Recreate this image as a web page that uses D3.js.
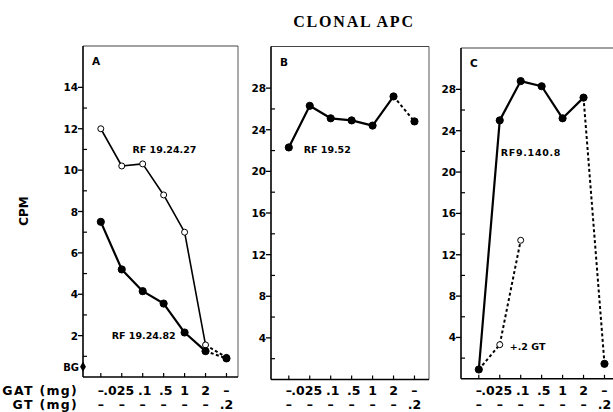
<!DOCTYPE html>
<html><head><meta charset="utf-8">
<script src="https://cdn.jsdelivr.net/npm/d3@7"></script>
<style>
html,body{margin:0;padding:0;background:#fff;}
svg{display:block;font-family:"DejaVu Sans",Arial,sans-serif;font-weight:bold;}
</style></head>
<body>
<script>
// ---- data ----
const gatLabels = ["–", ".025", ".1", ".5", "1", "2", "–"];
const gtLabels  = ["–", "–", "–", "–", "–", "–", ".2"];
const indices   = [0, 1, 2, 3, 4, 5, 6];

// Panel A
const rf192427 = [12.0, 10.2, 10.3, 8.8, 7.0, 1.55, 0.95];
const rf192482 = [7.5, 5.2, 4.15, 3.55, 2.15, 1.25, 0.9];
const bgValue  = 0.5;
const aTicksMajor = [2, 4, 6, 8, 10, 12, 14];
const aTicksMinor = [1, 3, 5, 7, 9, 11, 13];

// Panel B
const rf1952 = [22.3, 26.3, 25.1, 24.9, 24.4, 27.2, 24.8];
// Panel C
const rf91408 = [0.9, 25.0, 28.8, 28.3, 25.2, 27.2, 1.45];
const plusGT  = [0.9, 3.3, 13.4];
const bcTicksMajor = [4, 8, 12, 16, 20, 24, 28];
const bcTicksMinor = [2, 6, 10, 14, 18, 22, 26];

const W = 613, H = 412;
const svg = d3.select("body").append("svg").attr("width", W).attr("height", H);

svg.append("text").attr("x", 354).attr("y", 27).attr("text-anchor", "middle")
  .style("font-family", "'Liberation Serif','Times New Roman',serif")
  .style("font-size", "16px").style("letter-spacing", "1.8px").text("CLONAL APC");

svg.append("text").attr("transform", "translate(28,211) rotate(-90)")
  .attr("text-anchor", "middle").style("font-size", "12px").text("CPM");

svg.append("text").attr("x", 78).attr("y", 395).attr("text-anchor", "end")
  .style("font-size", "12.5px").style("letter-spacing", "1.3px").text("GAT (mg)");
svg.append("text").attr("x", 78).attr("y", 408.5).attr("text-anchor", "end")
  .style("font-size", "12.5px").style("letter-spacing", "1.3px").text("GT (mg)");

const labelShift = {".025": -3, ".1": 2, ".5": 2};

function panel(cfg) {
  const x = d3.scaleLinear().domain([-0.85, 6.55]).range([cfg.left, cfg.left + 155]);
  const y = d3.scaleLinear().domain([0, cfg.ymax]).range([cfg.bottom, cfg.top]);
  const g = svg.append("g");
  g.append("line").attr("x1", cfg.left).attr("x2", cfg.right).attr("y1", cfg.top).attr("y2", cfg.top)
    .attr("stroke", "#444").attr("stroke-width", 1.2);
  if (cfg.right < W) g.append("line").attr("x1", cfg.right).attr("x2", cfg.right).attr("y1", cfg.top).attr("y2", cfg.bottom)
    .attr("stroke", "#555").attr("stroke-width", 1);
  g.append("line").attr("x1", cfg.left).attr("x2", cfg.right).attr("y1", cfg.bottom).attr("y2", cfg.bottom)
    .attr("stroke", "#000").attr("stroke-width", 1.6);
  g.append("line").attr("x1", cfg.left).attr("x2", cfg.left).attr("y1", cfg.top).attr("y2", cfg.bottom)
    .attr("stroke", "#000").attr("stroke-width", 1.6);
  cfg.major.forEach(v => {
    g.append("line").attr("x1", cfg.left - 5).attr("x2", cfg.left).attr("y1", y(v)).attr("y2", y(v))
      .attr("stroke", "#000").attr("stroke-width", 1.3);
    g.append("text").attr("x", cfg.left - 5).attr("y", y(v) + 4).attr("text-anchor", "end")
      .style("font-size", "10.5px").text(v);
  });
  cfg.minor.forEach(v => {
    g.append("line").attr("x1", cfg.left).attr("x2", cfg.left + 4).attr("y1", y(v)).attr("y2", y(v))
      .attr("stroke", "#000").attr("stroke-width", 1.2);
  });
  indices.forEach(i => {
    g.append("line").attr("x1", x(i)).attr("x2", x(i)).attr("y1", cfg.bottom).attr("y2", cfg.bottom - 4)
      .attr("stroke", "#000").attr("stroke-width", 1.2);
    g.append("text").attr("x", x(i) + (labelShift[gatLabels[i]] || 0)).attr("y", 395)
      .attr("text-anchor", "middle").style("font-size", "12.5px").text(gatLabels[i]);
    g.append("text").attr("x", x(i)).attr("y", 408.5)
      .attr("text-anchor", "middle").style("font-size", "12.5px").text(gtLabels[i]);
  });
  g.append("text").attr("x", cfg.left + 9).attr("y", cfg.top + 19).style("font-size", "10.5px").text(cfg.letter);
  return {g, x, y};
}

function series(p, vals, opts) {
  const line = d3.line().x(d => p.x(d.i)).y(d => p.y(d.v));
  const pts = vals.map((v, i) => ({i, v}));
  const solid = pts.slice(0, opts.solidEnd + 1);
  const dashed = pts.slice(opts.solidEnd);
  if (solid.length > 1)
    p.g.append("path").attr("d", line(solid)).attr("fill", "none").attr("stroke", "#000")
      .attr("stroke-width", opts.width).attr("stroke-linejoin", "round");
  if (dashed.length > 1)
    p.g.append("path").attr("d", line(dashed)).attr("fill", "none").attr("stroke", "#000")
      .attr("stroke-width", 2).attr("stroke-dasharray", "3,2.5");
  p.g.selectAll(null).data(pts).enter().append("circle")
    .attr("cx", d => p.x(d.i)).attr("cy", d => p.y(d.v))
    .attr("r", opts.open ? 3 : 3.6)
    .attr("fill", opts.open ? "#fff" : "#000").attr("stroke", "#000").attr("stroke-width", 1);
}

function label(p, i, v, txt, ls) {
  p.g.append("text").attr("x", p.x(i)).attr("y", p.y(v)).style("font-size", "9.5px")
    .style("letter-spacing", (ls || 0) + "px").text(txt);
}

// Panel A
const pA = panel({left: 83, right: 238, top: 46, bottom: 377, ymax: 16, major: aTicksMajor, minor: aTicksMinor, letter: "A"});
series(pA, rf192427, {solidEnd: 5, width: 1.6, open: true});
series(pA, rf192482, {solidEnd: 5, width: 2.2, open: false});
pA.g.append("path").attr("d", d3.symbol().type(d3.symbolDiamond).size(30)())
  .attr("transform", `translate(${pA.x(-0.85)},${pA.y(bgValue)})`).attr("fill", "#000");
pA.g.append("text").attr("x", 79).attr("y", pA.y(bgValue) + 4).attr("text-anchor", "end")
  .style("font-size", "10px").text("BG");
label(pA, 1.51, 10.85, "RF 19.24.27");
label(pA, 0.52, 1.85, "RF 19.24.82");

// Panel B
const pB = panel({left: 271, right: 429, top: 46.5, bottom: 379.5, ymax: 32, major: bcTicksMajor, minor: bcTicksMinor, letter: "B"});
series(pB, rf1952, {solidEnd: 5, width: 2.2, open: false});
label(pB, 0.71, 21.75, "RF 19.52");

// Panel C
const pC = panel({left: 461, right: 613, top: 48, bottom: 378.8, ymax: 32, major: bcTicksMajor, minor: bcTicksMinor, letter: "C"});
{
  const line = d3.line().x(d => pC.x(d.i)).y(d => pC.y(d.v));
  const pts = plusGT.map((v, i) => ({i, v}));
  pC.g.append("path").attr("d", line(pts)).attr("fill", "none").attr("stroke", "#000")
    .attr("stroke-width", 2).attr("stroke-dasharray", "3,2.5");
  pC.g.selectAll(null).data(pts.slice(1)).enter().append("circle")
    .attr("cx", d => pC.x(d.i)).attr("cy", d => pC.y(d.v)).attr("r", 3)
    .attr("fill", "#fff").attr("stroke", "#000").attr("stroke-width", 1);
}
series(pC, rf91408, {solidEnd: 5, width: 2.2, open: false});
label(pC, 1.05, 21.6, "RF9.140.8", 0.7);
label(pC, 1.48, 2.8, "+.2 GT");
</script>
</body></html>
